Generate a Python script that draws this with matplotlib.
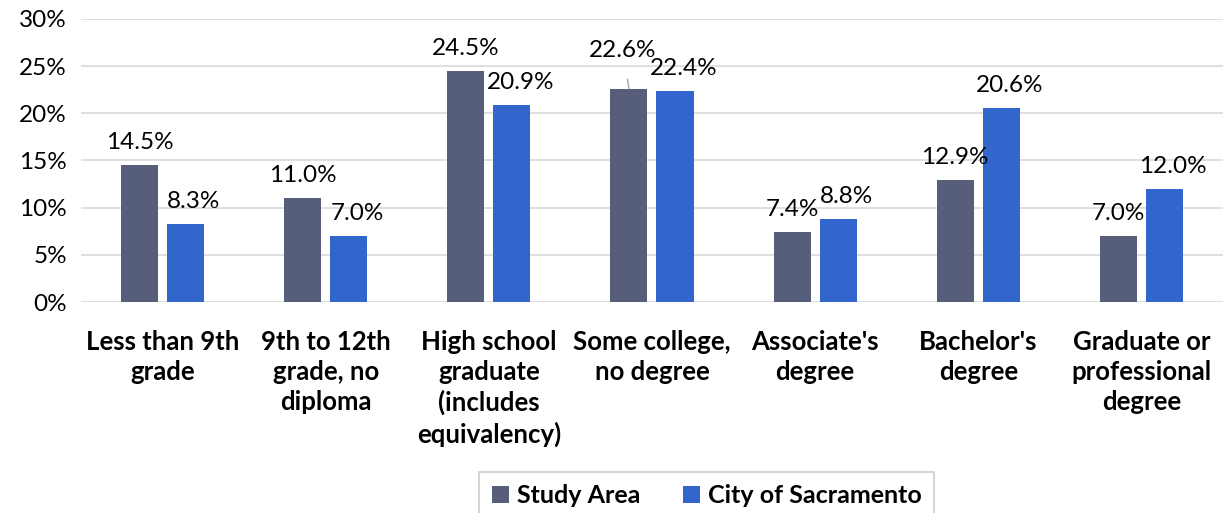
import matplotlib.pyplot as plt
import numpy as np

# datos
categorias = ["Less than 9th\ngrade", "9th to 12th\ngrade, no\ndiploma",
              "High school\ngraduate\n(includes\nequivalency)", "Some college,\nno degree",
              "Associate's\ndegree", "Bachelor's\ndegree", "Graduate or\nprofessional\ndegree"]
study_area = [14.5, 11.0, 24.5, 22.6, 7.4, 12.9, 7.0]
sacramento = [8.3, 7.0, 20.9, 22.4, 8.8, 20.6, 12.0]
yticks = [0, 5, 10, 15, 20, 25, 30]

plt.rcParams['font.family'] = ['Lato', 'DejaVu Sans']

fig = plt.figure(figsize=(12.23, 5.13), dpi=100)
ax = fig.add_axes([0.0662, 0.4113, 0.9338, 0.5517])

x = np.arange(len(categorias))
w = 0.227
off = 0.141
c1, c2 = '#565e7a', '#3366cc'
b1 = ax.bar(x - off, study_area, w, color=c1, label='Study Area', zorder=3)
b2 = ax.bar(x + off, sacramento, w, color=c2, label='City of Sacramento', zorder=3)

fs = 17.5
for i, v in enumerate(study_area):
    if i == 3:
        # etiqueta desplazada con linea guia
        ax.annotate(f'{v:.1f}%', xy=(x[i] - off, v), xytext=(-6, 38), textcoords='offset pixels',
                    ha='center', va='center', fontsize=fs,
                    arrowprops=dict(arrowstyle='-', color='#a6a6a6', lw=1, shrinkA=11, shrinkB=0))
    else:
        ax.annotate(f'{v:.1f}%', xy=(x[i] - off, v), xytext=(0, 8.5), textcoords='offset points',
                    ha='center', va='bottom', fontsize=fs)
for i, v in enumerate(sacramento):
    ax.annotate(f'{v:.1f}%', xy=(x[i] + off, v), xytext=(6, 8.5), textcoords='offset points',
                ha='center', va='bottom', fontsize=fs)

ax.set_xlim(-0.5, len(categorias) - 0.5)
ax.set_ylim(0, 30)
ax.set_yticks(yticks)
ax.set_yticklabels([f'{t}%' for t in yticks], fontsize=17.5)
ax.set_xticks(x)
ax.set_xticklabels(categorias, fontsize=18.5, fontweight='bold', linespacing=1.3, va='top')
ax.tick_params(length=0, pad=10)
ax.tick_params(axis='x', pad=20)
ax.grid(axis='y', color='#d9d9d9', lw=1.2, zorder=0)
for s in ax.spines.values():
    s.set_visible(False)

leg = fig.legend(handles=[b1, b2], loc='upper center', bbox_to_anchor=(0.5777, 0.08), ncol=2,
                 frameon=True, fancybox=False, edgecolor='#bfbfbf', handlelength=0.7,
                 handleheight=0.7, columnspacing=1.7, handletextpad=0.3, borderpad=0.5,
                 borderaxespad=0, prop={'size': 18, 'weight': 'bold'})
leg.get_frame().set_linewidth(1.2)

fig.savefig('out.png', dpi=100)
